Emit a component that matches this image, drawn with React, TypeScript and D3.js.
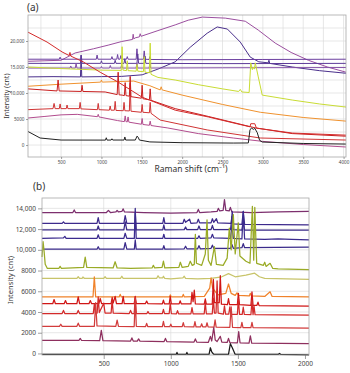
import React, { useEffect, useRef } from "react";
import * as d3 from "d3";

type Pt = [number, number];

// ---------- panel (a): full range spectra, 90 - 4030 cm-1 ----------
const aPurpleHump: Pt[] = [[90,16100],[300,16200],[500,16300],[674,17700],[900,18500],[1083,19200],[1250,19900],[1385,20300],[1393,21300],[1401,20400],[1418,20600],[1470,20800],[1480,21400],[1490,20900],[1700,22000],[1914,23100],[2075,24000],[2250,24600],[2534,24400],[2782,23800],[2943,22100],[3153,19600],[3350,17800],[3563,16300],[3800,15000],[4030,14000]];
const aIndigo: Pt[] = [[90,13100],[400,13150],[740,13100],[748,17300],[756,13100],[1000,13150],[1250,13200],[1504,13500],[1700,14600],[1914,16000],[2100,18800],[2310,21500],[2434,22700],[2560,22300],[2720,19800],[2844,16900],[2950,16000],[3067,15800],[3075,16300],[3085,15700],[3364,15000],[3700,14300],[4030,13800]];
const aViolet1: Pt[] = [[90,16500],[478,16500],[488,16900],[498,16500],[936,16500],[946,17300],[956,16500],[1120,16500],[1130,17000],[1140,16500],[1190,16500],[1200,17400],[1210,16500],[1230,16500],[1240,17200],[1250,16500],[1310,16500],[1320,17000],[1330,16500],[1430,16500],[1440,18500],[1450,16500],[1520,16500],[1530,18100],[1540,16500],[1590,16450],[1600,17000],[1610,16450],[2000,16400],[3000,16450],[4030,16500]];
const aViolet2: Pt[] = [[90,15700],[740,15700],[750,17200],[760,15700],[990,15700],[1000,16200],[1010,15700],[1160,15700],[1170,16300],[1180,15700],[1280,15700],[1290,16600],[1300,15700],[1440,15700],[1450,17500],[1460,15700],[1530,15700],[1540,17100],[1550,15700],[2500,15650],[4030,15700]];
const aViolet3: Pt[] = [[90,14800],[610,14800],[620,15200],[630,14800],[676,14800],[686,15700],[696,14800],[990,14800],[1000,15100],[1010,14800],[1100,14800],[1110,15300],[1120,14800],[1240,14800],[1250,15400],[1260,14800],[1430,14800],[1440,15800],[1450,14800],[1590,14800],[1600,15600],[1610,14800],[2500,14850],[4030,14900]];
const aYellow: Pt[] = [[90,15000],[500,14700],[1000,14400],[1245,14350],[1256,18900],[1267,14400],[1310,14300],[1320,16200],[1330,14300],[1430,14200],[1440,15500],[1450,14200],[1520,14100],[1530,17000],[1540,14000],[1594,13900],[1604,19600],[1614,13600],[1700,13000],[1914,12500],[2200,11600],[2500,10800],[2700,10300],[2720,10700],[2740,10200],[2830,10100],[2850,15800],[2870,14500],[2881,15000],[2895,14600],[2906,15800],[2943,13100],[2992,9600],[3364,8650],[3700,7900],[4030,7300]];
const aOrange: Pt[] = [[90,11300],[500,11700],[990,12100],[1000,12500],[1010,12100],[1400,12300],[1600,11400],[1728,10600],[1740,11200],[1752,10600],[2000,9600],[2500,7800],[2968,6300],[3500,5300],[4030,4600]];
const aRedDiag: Pt[] = [[90,21700],[326,19800],[512,17900],[600,17200],[610,17800],[620,17100],[773,16000],[984,14000],[1207,12100],[1504,9200],[1914,6700],[2323,5400],[2840,3500],[2850,4100],[2900,4100],[2920,3250],[3364,2300],[4030,1900]];
const aRed1: Pt[] = [[90,10800],[450,10400],[463,12500],[476,10400],[750,10300],[760,11500],[770,10300],[1046,10200],[1195,9700],[1207,14000],[1219,9650],[1256,9600],[1284,9500],[1294,12000],[1304,9500],[1346,9400],[1356,13200],[1366,9300],[1494,9000],[1504,11500],[1514,8900],[1594,8700],[1604,10800],[1614,8600],[1914,7000],[2323,5500],[2906,3300],[3364,2200],[4030,1700]];
const aRed2: Pt[] = [[90,6800],[400,7000],[413,8000],[426,7000],[478,7000],[488,7900],[498,7000],[564,7000],[574,7700],[584,7000],[726,7000],[736,8200],[746,6950],[950,6800],[960,8000],[970,6800],[1098,6700],[1108,7500],[1118,6700],[1160,6700],[1170,8400],[1180,6650],[1270,6600],[1280,8200],[1290,6600],[1346,6550],[1356,11900],[1366,6500],[1494,6300],[1504,7800],[1514,6300],[1594,6200],[1604,8200],[1614,6100],[1728,4800],[2310,2900],[2968,1350],[4030,960]];
const aMagenta: Pt[] = [[90,5200],[300,5500],[500,5800],[700,5900],[950,5450],[960,5900],[970,5400],[1200,4700],[1284,4500],[1294,5600],[1304,4500],[1320,4450],[1330,5400],[1340,4400],[1494,4000],[1504,5100],[1514,3950],[1594,3800],[1604,4600],[1614,3750],[1814,3300],[2200,2200],[2633,1350],[3000,700],[3500,100],[4030,-380]];
const aBlack: Pt[] = [[90,2600],[240,1350],[500,960],[1050,950],[1060,1400],[1070,950],[1120,960],[1130,1200],[1140,960],[1280,960],[1290,1550],[1300,960],[1420,960],[1440,1700],[1455,1500],[1470,960],[1600,600],[2000,450],[2633,380],[2820,400],[2840,2900],[2860,3300],[2881,3000],[2900,3200],[2930,2400],[2960,900],[2992,580],[3500,300],[4030,190]];

const aSeries = [aPurpleHump, aIndigo, aViolet1, aViolet2, aViolet3, aYellow, aOrange, aMagenta, aRed2, aRed1, aRedDiag, aBlack];
const aXTicks = [500, 1000, 1500, 2000, 2500, 3000, 3500, 4000];
const aYTicks = [0, 5000, 10000, 15000, 20000];

// ---------- panel (b): fingerprint region, 40 - 2030 cm-1 ----------
const b1: Pt[] = [[40,13600],[270,13600],[280,13850],[290,13600],[520,13600],[535,13800],[550,13600],[590,13650],[600,13800],[610,13650],[635,13700],[645,13950],[655,13650],[800,13600],[1000,13550],[1195,13600],[1205,13900],[1215,13600],[1300,13650],[1345,13700],[1354,14000],[1365,13750],[1390,13800],[1400,14850],[1410,13800],[1435,13750],[1444,14100],[1455,13650],[1600,13600],[1800,13650],[2030,13700]];
const b2: Pt[] = [[40,12550],[190,12550],[200,12700],[210,12550],[450,12550],[459,13100],[468,12550],[650,12550],[660,13300],[672,12550],[940,12550],[948,13100],[956,12550],[1090,12550],[1100,12950],[1110,12650],[1140,12950],[1150,12550],[1195,12600],[1205,12950],[1215,12600],[1300,12600],[1310,13000],[1320,12650],[1340,13000],[1350,12600],[1450,12550],[1458,13700],[1466,12500],[1530,12450],[1540,13700],[1550,12450],[2030,12400]];
const b3: Pt[] = [[40,11930],[450,11930],[459,12300],[468,11930],[650,11930],[660,12700],[672,11930],[730,11930],[735,13600],[742,11930],[940,11930],[948,12400],[956,11930],[1100,11950],[1110,12200],[1120,11950],[1200,11950],[1210,12300],[1220,11950],[1300,11950],[1310,12350],[1320,11950],[1445,11950],[1456,13200],[1466,11950],[1530,11900],[1540,12700],[1550,11900],[2030,11900]];
const b4: Pt[] = [[40,11100],[200,11150],[210,11300],[220,11100],[450,11100],[459,11450],[468,11100],[650,11100],[660,11600],[672,11100],[728,11100],[735,14000],[742,11100],[940,11100],[948,11500],[956,11100],[1200,11100],[1210,11350],[1220,11100],[1300,11150],[1310,11500],[1320,11150],[1445,11100],[1456,12400],[1466,11100],[1530,11050],[1540,13700],[1550,11050],[1700,11000],[1800,11050],[1900,11000],[2030,10960]];
const b5: Pt[] = [[40,10060],[450,10060],[459,10300],[468,10060],[650,10060],[660,10700],[672,10060],[728,10060],[735,10950],[742,10060],[940,10060],[948,10400],[956,10060],[1100,10100],[1110,10350],[1120,10100],[1200,10100],[1210,10400],[1220,10100],[1300,10150],[1310,10450],[1320,10150],[1445,10150],[1456,10500],[1466,10150],[1530,10200],[1540,10600],[1550,10200],[2030,10250]];
const b6: Pt[] = [[40,9300],[48,10800],[56,9800],[64,8600],[80,8200],[165,8200],[175,8400],[185,8200],[350,8300],[362,9300],[374,8300],[570,8250],[585,8850],[600,8250],[700,8200],[860,8250],[870,8500],[880,8250],[935,8300],[945,8900],[955,8250],[1060,8300],[1071,8800],[1085,8300],[1130,8400],[1145,8900],[1160,8500],[1175,8600],[1183,11500],[1191,8700],[1230,8500],[1257,9600],[1270,12900],[1280,9000],[1300,8500],[1325,10300],[1340,8600],[1390,8500],[1420,9200],[1436,12100],[1450,10000],[1466,13400],[1480,9600],[1503,12600],[1515,9400],[1560,8900],[1590,8700],[1608,14200],[1618,9000],[1626,14100],[1640,8700],[1690,8500],[1700,8800],[1710,8400],[1740,8700],[1760,8200],[1800,8150],[2030,8100]];
const b7: Pt[] = [[40,7250],[300,7250],[310,7400],[320,7250],[340,7250],[345,7380],[355,7250],[500,7250],[510,7400],[520,7250],[625,7250],[635,7450],[645,7250],[895,7250],[905,7500],[915,7300],[940,7300],[945,7450],[955,7250],[1000,7200],[1090,7300],[1100,7450],[1110,7250],[1200,7200],[1300,7250],[1380,7400],[1430,7700],[1480,7400],[1560,7550],[1625,7750],[1660,7400],[1700,7250],[2030,7150]];
const b8: Pt[] = [[40,5450],[420,5450],[430,7400],[440,5450],[615,5450],[623,5700],[631,5450],[990,5450],[996,5650],[1004,5450],[1085,5450],[1093,5700],[1101,5450],[1250,5500],[1290,6300],[1300,7300],[1312,6300],[1350,5650],[1410,5800],[1430,6700],[1450,5800],[1480,5600],[1493,5850],[1505,5600],[1585,5550],[1593,5800],[1601,5550],[1700,5500],[1740,5950],[1755,5500],[2030,5460]];
const b9: Pt[] = [[40,4800],[120,4800],[130,5200],[140,4800],[205,4800],[215,5100],[225,4800],[300,4800],[310,5450],[320,4800],[390,4800],[400,5100],[410,4800],[464,4800],[474,5300],[484,4800],[555,4800],[563,5400],[570,4850],[585,5500],[595,4800],[637,4800],[645,5500],[653,4800],[727,4800],[735,5500],[743,4800],[810,4800],[820,5050],[830,4800],[937,4780],[945,5150],[953,4780],[988,4780],[996,5500],[1004,4780],[1062,4780],[1070,5080],[1078,4780],[1150,4780],[1158,5900],[1166,5000],[1175,6100],[1183,4780],[1249,4760],[1257,5260],[1265,4760],[1309,4760],[1317,7150],[1325,4900],[1361,4900],[1369,7500],[1377,4760],[1422,4700],[1430,5300],[1438,4700],[1496,4700],[1504,5800],[1512,4700],[1597,4650],[1605,5950],[1613,4650],[1642,4650],[1650,4950],[1658,4620],[2030,4560]];
const b10: Pt[] = [[40,3850],[190,3850],[200,4150],[210,3850],[300,3850],[310,4150],[320,3850],[422,3850],[430,4750],[438,3900],[451,3900],[459,5450],[467,3950],[500,4850],[510,3900],[555,3900],[563,5150],[571,3880],[690,3850],[700,4150],[710,3850],[727,3850],[735,5450],[743,3850],[822,3850],[830,4050],[838,3850],[937,3850],[945,4250],[953,3850],[988,3850],[996,4850],[1004,3850],[1042,3830],[1050,4130],[1058,3830],[1150,3830],[1158,4430],[1166,3830],[1249,3830],[1257,4930],[1265,3830],[1309,3830],[1317,5330],[1325,3900],[1337,3900],[1345,7000],[1353,3900],[1392,3800],[1400,4600],[1408,3800],[1432,3800],[1440,4500],[1448,3780],[1496,3780],[1504,5280],[1512,3780],[1532,3760],[1540,4460],[1548,3760],[1597,3740],[1605,5140],[1613,3740],[1620,4600],[1628,3740],[2030,3690]];
const b11: Pt[] = [[40,2620],[170,2620],[180,2820],[190,2620],[300,2620],[310,2920],[320,2620],[430,2620],[440,4900],[450,2650],[590,2620],[600,3220],[610,2620],[727,2600],[735,5300],[743,2620],[812,2600],[820,2900],[828,2600],[937,2600],[945,3100],[953,2600],[992,2580],[1000,2830],[1008,2580],[1085,2580],[1093,2980],[1101,2580],[1172,2560],[1180,3060],[1188,2560],[1222,2560],[1230,2860],[1238,2560],[1262,2560],[1270,2960],[1278,2560],[1322,2540],[1330,3240],[1338,2540],[1440,2520],[1450,4500],[1460,2520],[1522,2500],[1530,3000],[1538,2500],[1597,2490],[1605,3000],[1613,2490],[2030,2450]];
const b12: Pt[] = [[40,1260],[315,1250],[325,1450],[335,1250],[470,1230],[482,2230],[494,1230],[700,1200],[710,1500],[720,1200],[750,1190],[760,1400],[770,1190],[950,1150],[960,1450],[970,1150],[1173,1100],[1183,1400],[1193,1100],[1280,1080],[1295,1650],[1305,1200],[1320,2500],[1331,1300],[1345,1150],[1369,1650],[1380,1100],[1420,1060],[1430,1450],[1440,1050],[1496,1030],[1506,2100],[1516,1030],[1583,1000],[1593,1700],[1603,1000],[2030,940]];
const b13: Pt[] = [[40,-80],[500,-100],[1040,-100],[1046,100],[1052,-100],[1114,-100],[1120,100],[1126,-100],[1285,-100],[1295,550],[1305,150],[1320,-100],[1430,-100],[1444,940],[1460,500],[1480,-100],[1800,-100],[1810,0],[1820,-100],[2030,-130]];

const bSeries = [b1, b2, b3, b4, b5, b6, b7, b8, b9, b10, b11, b12, b13];
const bXTicks = [500, 1000, 1500, 2000];
const bYTicks = [0, 2000, 4000, 6000, 8000, 10000, 12000, 14000];

const aColors = ["#9b4f9f", "#4a2f8c", "#6c3fa0", "#5c3a98", "#8550a8", "#c9dc34", "#f0922e", "#b24d8e", "#d03434", "#c81e1e", "#d42a2a", "#222222"];
const bColors = ["#7d2f6e", "#3d2a8c", "#3a2a88", "#3b2b8e", "#3a2a8a", "#9aab26", "#c8c46a", "#f0822a", "#d01616", "#d32a2a", "#d23c3c", "#8e2f5e", "#1a1a1a"];

const FONT = "'Noto Sans', 'Open Sans', sans-serif";
const fmt = (v: number) => (v >= 10000 ? d3.format(",")(v) : String(v));

function drawPanel(svg: any, o: any) {
  const x = d3.scaleLinear().domain(o.xDomain).range(o.xRange);
  const y = d3.scaleLinear().domain(o.yDomain).range(o.yRange);
  const g = svg.append("g");

  // grid
  g.selectAll(".vgrid").data(o.xGrid).enter().append("line")
    .attr("x1", (d: number) => x(d)).attr("x2", (d: number) => x(d))
    .attr("y1", o.yRange[0]).attr("y2", o.yRange[1])
    .attr("stroke", "#dcdcdc").attr("stroke-width", 0.7);
  g.selectAll(".hgrid").data(o.yGrid).enter().append("line")
    .attr("y1", (d: number) => y(d)).attr("y2", (d: number) => y(d))
    .attr("x1", o.xRange[0]).attr("x2", o.xRange[1])
    .attr("stroke", "#dcdcdc").attr("stroke-width", 0.7);

  const line = d3.line<Pt>().x((d) => x(d[0])).y((d) => y(d[1]));
  g.selectAll(".spec").data(o.series).enter().append("path")
    .attr("d", (d: Pt[]) => line(d))
    .attr("fill", "none")
    .attr("stroke", (_: any, i: number) => o.colors[i])
    .attr("stroke-width", o.lineWidth)
    .attr("stroke-linejoin", "round");

  // frame
  g.append("rect")
    .attr("x", o.xRange[0]).attr("y", o.yRange[1])
    .attr("width", o.xRange[1] - o.xRange[0]).attr("height", o.yRange[0] - o.yRange[1])
    .attr("fill", "none").attr("stroke", "#a8a8a8").attr("stroke-width", 0.8);

  const xAxis = g.append("g").attr("transform", `translate(0,${o.yRange[0]})`)
    .call(d3.axisBottom(x).tickValues(o.xTicks).tickFormat((d: any) => String(d)).tickSize(o.tickSize).tickPadding(o.tickPad));
  const yAxis = g.append("g").attr("transform", `translate(${o.xRange[0]},0)`)
    .call(d3.axisLeft(y).tickValues(o.yTicks).tickFormat((d: any) => fmt(d)).tickSize(o.tickSize).tickPadding(o.tickPad));
  [xAxis, yAxis].forEach((ax) => {
    ax.select(".domain").remove();
    ax.selectAll("line").attr("stroke", "#777").attr("stroke-width", 0.7);
    ax.selectAll("text").attr("font-family", FONT).attr("font-size", o.tickFont).attr("fill", "#444");
  });
}

export default function App() {
  const ref = useRef<SVGSVGElement>(null);

  useEffect(() => {
    const svg = d3.select(ref.current);
    svg.selectAll("*").remove();

    drawPanel(svg, {
      xDomain: [90, 4030], xRange: [28, 346],
      yDomain: [-2300, 25000], yRange: [157, 15],
      xGrid: d3.range(250, 4001, 250), yGrid: d3.range(0, 25000, 2500),
      xTicks: aXTicks, yTicks: aYTicks,
      series: aSeries, colors: aColors, lineWidth: 1,
      tickSize: 2, tickPad: 1.5, tickFont: 4.6,
    });
    drawPanel(svg, {
      xDomain: [40, 2030], xRange: [42, 309],
      yDomain: [-150, 15000], yRange: [355, 198],
      xGrid: [500, 1000, 1500], yGrid: bYTicks,
      xTicks: bXTicks, yTicks: bYTicks,
      series: bSeries, colors: bColors, lineWidth: 1.25,
      tickSize: 4, tickPad: 2, tickFont: 6.5,
    });

    const labels = [
      { t: "(a)", x: 27, y: 11, s: 10, r: 0 },
      { t: "(b)", x: 33, y: 190, s: 10, r: 0 },
      { t: "Intensity (cnt)", x: 7, y: 96, s: 7, r: -90 },
      { t: "Intensity (cnt)", x: 10, y: 280, s: 7.5, r: -90 },
      { t: "Raman shift (cm\u207B\u00B9)", x: 191, y: 172, s: 8.5, r: 0 },
    ];
    svg.selectAll(".lbl").data(labels).enter().append("text")
      .attr("transform", (d) => `translate(${d.x},${d.y}) rotate(${d.r})`)
      .attr("text-anchor", (d) => (d.r ? "middle" : d.t.startsWith("(") ? "start" : "middle"))
      .attr("dy", (d) => (d.r ? "0.35em" : 0))
      .attr("font-family", FONT).attr("font-size", (d) => d.s).attr("fill", "#333")
      .text((d) => d.t);
  }, []);

  return (
    <svg ref={ref} width={350} height={373}
      style={{ position: "absolute", left: 0, top: 0, background: "#fff" }} />
  );
}
